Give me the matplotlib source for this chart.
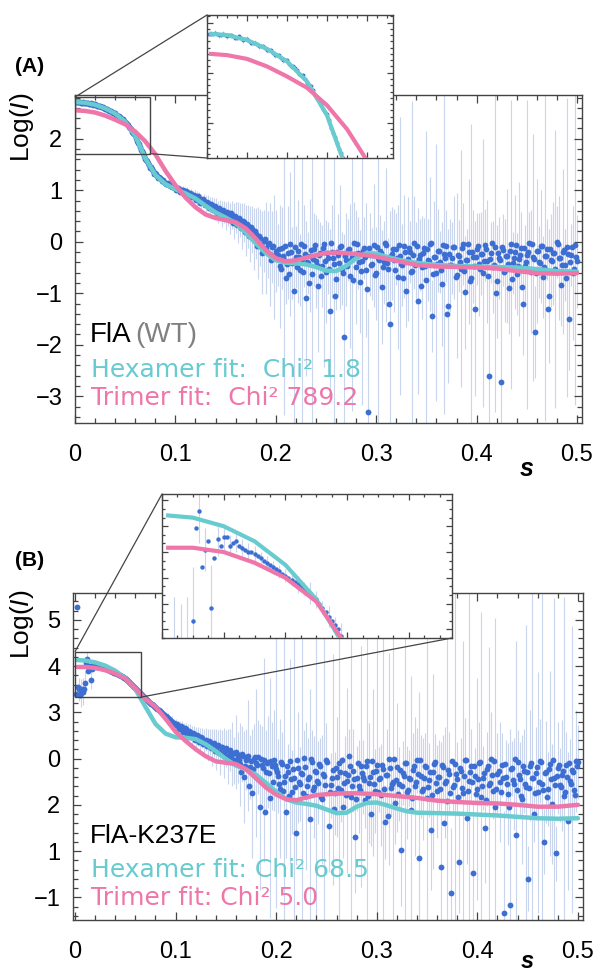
import numpy as np
import matplotlib
matplotlib.use("Agg")
import matplotlib.pyplot as plt
from matplotlib.patches import Rectangle, ConnectionPatch
from matplotlib.ticker import MultipleLocator, FixedLocator, FixedFormatter

# ---------------- data ----------------
# measured s grid (two interleaved frames, step 0.002 each)
s_data = np.round(np.arange(1, 251) * 0.002, 4)
s_data2 = np.round(np.arange(1, 251) * 0.002 - 0.001, 4)

# Panel A: FlA (WT) experimental log(I)
logI_A = [
    2.71, 2.72, 2.70, 2.71, 2.69, 2.70, 2.68, 2.69, 2.66, 2.67,
    2.64, 2.64, 2.61, 2.61, 2.58, 2.58, 2.54, 2.54, 2.50, 2.50,
    2.45, 2.44, 2.39, 2.38, 2.32, 2.29, 2.22, 2.18, 2.11, 2.07,
    1.96, 1.89, 1.79, 1.72, 1.61,
    1.57, 1.50, 1.45, 1.37, 1.33, 1.27, 1.26, 1.21, 1.19, 1.15,
    1.13, 1.12, 1.08, 1.07, 1.05, 1.03, 1.03, 0.99, 1.00, 0.96,
    0.97, 0.92, 0.93, 0.88, 0.89, 0.84, 0.85, 0.78, 0.80, 0.74,
    0.75, 0.68, 0.71, 0.64, 0.66, 0.58, 0.62, 0.54, 0.58, 0.50,
    0.55, 0.46, 0.52, 0.41, 0.47, 0.37, 0.43, 0.30, 0.38, 0.22,
    0.30, 0.15, 0.24, 0.05, 0.16, -0.02, 0.08, -0.21, 0.01, -0.12,
    -0.05, -0.24, -0.10, -0.30, -0.18,
    -0.25, -0.48, -0.12, -0.36, -0.70, -0.21, -0.05, -0.41, -0.95, -0.30,
    -0.18, -0.55, -0.33, -0.08, -1.10, -0.42, -0.27, -0.62, -0.15, -0.38,
    -0.85, -0.22, -0.47, -0.04, -0.58, -0.31, -1.35, -0.19, -0.44, -0.72,
    -0.26, -0.10, -0.52, -1.85, -0.35, -0.16, -0.66, -0.29, -0.03, -0.49,
    -0.21, -0.78, -0.37, -0.12, -0.55, -3.30, -0.25, -0.43, -0.07, -0.61,
    -0.32, -0.18, -0.88, -0.40, -0.06, -0.53, -1.60, -0.23, -0.36, -0.14,
    -0.68, -0.28, -0.45, -0.09, -0.95, -0.33, -0.20, -0.57, -0.02, -0.41,
    -1.15, -0.26, -0.50, -0.13, -0.74, -0.35, -0.05, -1.45, -0.30, -0.60,
    -0.17, -0.39, -0.82, -0.24, -0.08, -1.25, -0.46, -0.31, -0.11, -0.65,
    -0.27, -0.52, -0.04, -0.98, -0.36, -0.19, -0.71, -0.29, -1.30, -0.14,
    -0.44, -0.23, -0.60, -0.06, -0.38, -2.60, -0.21, -0.49, -0.10, -0.77,
    -0.32, -2.72, -0.16, -0.55, -0.27, -0.90, -0.05, -0.42, -0.20, -0.63,
    -0.34, -0.12, -1.20, -0.47, -0.25, -0.03, -0.58, -0.30, -1.75, -0.18,
    -0.40, -0.09, -0.69, -0.28, -0.15, -1.05, -0.36, -0.22, -0.53, -0.01,
    -0.31, -0.84, -0.19, -0.45, -0.11, -1.50, -0.26, -0.60, -0.07, -0.38,
]
logI_A2 = [
    2.71, 2.71, 2.71, 2.70, 2.70, 2.70, 2.69, 2.68, 2.68, 2.67,
    2.65, 2.64, 2.63, 2.61, 2.60, 2.58, 2.56, 2.54, 2.52, 2.50,
    2.47, 2.45, 2.42, 2.38, 2.35, 2.30, 2.26, 2.20, 2.14, 2.09,
    2.02, 1.92, 1.84, 1.76, 1.66,
    1.58, 1.53, 1.44, 1.42, 1.32, 1.31, 1.23, 1.24, 1.18, 1.17,
    1.12, 1.14, 1.09, 1.06, 1.07, 1.01, 1.04, 0.97, 1.01, 0.94,
    0.98, 0.90, 0.95, 0.86, 0.91, 0.82, 0.88, 0.76, 0.83, 0.71,
    0.78, 0.66, 0.74, 0.61, 0.69, 0.56, 0.65, 0.50, 0.61, 0.46,
    0.57, 0.43, 0.55, 0.37, 0.50, 0.33, 0.46, 0.27, 0.41, 0.19,
    0.35, 0.12, 0.28, 0.09, 0.20, -0.08, 0.12, -0.04, -0.15, 0.06,
    -0.20, -0.02, -0.36, -0.08, -0.25,
    -0.33, -0.15, -0.52, -0.27, -0.08, -0.44, -0.62, -0.20, -0.37, -0.11,
    -0.49, -0.29, -0.04, -0.58, -0.23, -0.40, -0.80, -0.16, -0.34, -0.06,
    -0.45, -0.25, -0.67, -0.13, -0.38, -0.21, -0.53, -0.02, -0.31, -1.05,
    -0.19, -0.42, -0.09, -0.60, -0.28, -0.47, -0.14, -0.35, -0.74, -0.24,
    -0.05, -0.39, -0.56, -0.18, -0.30, -0.92, -0.12, -0.46, -0.26, -0.64,
    -0.10, -0.36, -0.22, -0.50, -0.03, -0.41, -1.20, -0.27, -0.15, -0.55,
    -0.32, -0.07, -0.44, -0.70, -0.19, -0.38, -0.12, -0.59, -0.25, -0.46,
    -0.08, -0.33, -0.85, -0.21, -0.48, -0.14, -0.37, -0.02, -0.62, -0.29,
    -0.43, -0.17, -0.54, -0.06, -0.31, -1.40, -0.23, -0.45, -0.11, -0.68,
    -0.26, -0.40, -0.13, -0.57, -0.35, -0.04, -0.76, -0.20, -0.48, -0.30,
    -0.09, -0.52, -0.24, -0.38, -0.15, -0.66, -0.33, -0.02, -0.45, -1.00,
    -0.21, -0.36, -0.10, -0.59, -0.28, -0.43, -0.17, -0.72, -0.32, -0.06,
    -0.47, -0.25, -0.88, -0.13, -0.39, -0.20, -0.55, -0.04, -0.34, -0.61,
    -0.18, -0.42, -0.08, -0.50, -0.27, -1.30, -0.14, -0.37, -0.22, -0.58,
    -0.05, -0.31, -0.46, -0.16, -0.70, -0.24, -0.40, -0.11, -0.53, -0.29,
]
err_A = [
    0.02, 0.02, 0.02, 0.02, 0.02, 0.02, 0.02, 0.02, 0.02, 0.02,
    0.02, 0.02, 0.02, 0.02, 0.02, 0.02, 0.02, 0.02, 0.02, 0.02,
    0.02, 0.02, 0.02, 0.02, 0.02, 0.02, 0.02, 0.02, 0.02, 0.02,
    0.02, 0.02, 0.02, 0.02, 0.02,
    0.03, 0.03, 0.04, 0.03, 0.04, 0.04, 0.05, 0.04, 0.05, 0.05,
    0.06, 0.05, 0.06, 0.07, 0.06, 0.08, 0.07, 0.09, 0.08, 0.10,
    0.09, 0.11, 0.10, 0.12, 0.11, 0.14, 0.12, 0.15, 0.13, 0.17,
    0.15, 0.18, 0.16, 0.20, 0.18, 0.22, 0.20, 0.25, 0.22, 0.28,
    0.25, 0.30, 0.27, 0.35, 0.30, 0.40, 0.33, 0.45, 0.38, 0.50,
    0.42, 0.55, 0.46, 0.60, 0.50, 0.70, 0.55, 0.80, 0.60, 0.90,
    0.65, 1.00, 0.70, 1.20, 0.80,
    0.6, 1.2, 0.8, 3.0, 0.5, 0.9, 1.4, 0.7, 2.6, 0.6,
    1.0, 0.7, 3.2, 0.8, 1.5, 0.6, 1.1, 2.9, 0.7, 0.9,
    1.3, 0.6, 0.8, 2.4, 1.0, 0.7, 1.6, 0.9, 3.1, 0.6,
    0.8, 1.2, 0.7, 2.0, 0.9, 0.6, 1.4, 3.0, 0.8, 1.1,
    0.7, 1.0, 2.8, 0.6, 1.3, 2.0, 0.8, 0.7, 1.2, 0.9,
    3.2, 0.7, 1.1, 0.8, 1.5, 0.6, 2.2, 0.9, 1.0, 0.7,
    1.4, 2.7, 0.8, 1.0, 0.7, 1.2, 0.6, 3.3, 0.9, 0.8,
    1.8, 0.7, 1.0, 0.6, 2.9, 0.8, 1.3, 0.7, 1.1, 2.5,
    0.8, 0.6, 1.2, 3.1, 0.7, 1.5, 0.9, 0.7, 1.0, 1.6,
    0.7, 2.3, 0.8, 1.1, 0.6, 1.4, 3.0, 0.9, 1.7, 0.7,
    1.0, 0.8, 2.6, 0.7, 1.2, 1.9, 0.6, 0.9, 3.2, 1.1,
    0.8, 2.2, 0.7, 1.0, 1.3, 0.9, 2.8, 0.6, 1.1, 0.8,
    1.5, 0.7, 1.0, 0.8, 3.0, 0.6, 1.2, 2.4, 0.9, 1.4,
    0.7, 1.1, 0.8, 3.2, 0.6, 1.3, 0.9, 1.0, 2.7, 0.7,
    1.2, 0.8, 1.6, 0.7, 2.9, 1.0, 0.6, 1.3, 3.1, 0.9,
]

# Panel A model fits
fit_s_A = [0.002, 0.01, 0.02, 0.03, 0.04, 0.05, 0.06, 0.07, 0.08, 0.09,
           0.10, 0.11, 0.12, 0.13, 0.14, 0.15, 0.16, 0.17, 0.18, 0.19,
           0.20, 0.21, 0.22, 0.23, 0.24, 0.25, 0.26, 0.27, 0.28, 0.29,
           0.30, 0.31, 0.32, 0.33, 0.34, 0.36, 0.38, 0.40, 0.42, 0.44,
           0.46, 0.48, 0.50]
hexamer_A = [2.71, 2.70, 2.66, 2.59, 2.49, 2.33, 2.06, 1.62, 1.30, 1.12,
             1.02, 0.94, 0.84, 0.70, 0.57, 0.47, 0.36, 0.18, -0.03, -0.22,
             -0.36, -0.41, -0.42, -0.44, -0.49, -0.56, -0.57, -0.47, -0.32, -0.22,
             -0.23, -0.29, -0.34, -0.38, -0.41, -0.45, -0.47, -0.48, -0.49, -0.50,
             -0.53, -0.57, -0.58]
trimer_A = [2.55, 2.54, 2.51, 2.45, 2.37, 2.28, 2.14, 1.95, 1.70, 1.38,
            1.10, 0.86, 0.67, 0.53, 0.46, 0.42, 0.38, 0.26, 0.06, -0.16,
            -0.32, -0.38, -0.36, -0.31, -0.26, -0.22, -0.21, -0.22, -0.24, -0.26,
            -0.29, -0.33, -0.37, -0.41, -0.45, -0.48, -0.49, -0.50, -0.52, -0.57,
            -0.61, -0.62, -0.61]

# Panel B: FlA-K237E experimental log(I)
logI_B = [
    5.28, 3.50, 3.42, 3.45, 3.64, 4.15, 3.97, 3.70, 4.02, 4.03,
    3.99, 4.01, 3.98, 3.96, 3.95, 3.93, 3.91, 3.89, 3.87, 3.85,
    3.83, 3.81, 3.79, 3.77, 3.74, 3.70, 3.66, 3.62, 3.57, 3.53,
    3.48, 3.44, 3.39, 3.35, 3.31, 3.26, 3.23, 3.19, 3.15, 3.12,
    3.07, 3.03, 2.99, 2.95, 2.91, 2.87, 2.83, 2.79, 2.76, 2.72,
    2.70, 2.66, 2.68, 2.60, 2.63, 2.55, 2.58, 2.49, 2.53, 2.44,
    2.48, 2.38, 2.45, 2.33, 2.41, 2.30, 2.36, 2.24, 2.33, 2.20,
    2.29, 2.15, 2.26, 2.12, 2.22, 2.05, 2.19, 2.10, 1.96, 2.14,
    2.03, 1.88, 2.10, 1.60, 1.98, 2.06, 1.82, 1.25, 1.99, 1.90,
    2.04, 0.95, 1.86, 1.97, 1.72, 1.93, 1.15, 1.84, 1.96, 1.78,
    1.62, 1.35, 1.88, 1.50, 0.85, 1.72, 1.95, 1.28, 1.58, 0.39,
    1.80, 1.45, 1.66, 2.02, 1.20, 1.55, 0.70, 1.92, 1.38, 1.70,
    1.48, 1.85, 1.12, 1.63, 1.98, 0.55, 1.42, 1.76, 1.25, 1.60,
    1.90, 1.33, 0.95, 1.68, 1.52, 2.05, 1.18, 1.74, 0.30, 1.57,
    1.40, 1.83, 1.60, 1.10, 1.95, 1.47, 0.80, 1.70, 1.30, 1.87,
    1.55, 1.22, 1.78, 0.62, 1.65, 1.99, 1.36, 1.50, 1.05, 1.81,
    1.44, 0.02, 1.69, 1.90, 1.27, 1.58, 0.88, 1.75, 1.40, 1.96,
    -0.15, 1.62, 1.34, 1.85, 1.15, 1.53, 0.45, 1.72, 1.93, 1.29,
    1.60, -0.35, 1.82, 1.48, 1.08, 1.67, -0.90, 1.39, 1.88, 1.56,
    -0.24, 1.74, 1.25, 1.97, 0.72, 1.51, 1.83, -0.48, 1.63, 1.35,
    1.90, 1.18, 1.58, 0.50, 1.77, 1.42, 2.00, 1.30, 0.95, 1.66,
    1.49, 1.86, -1.34, 1.61, 1.24, -1.17, 1.79, 1.45, 0.35, 1.92,
    1.55, 1.12, 1.73, 1.38, -0.60, 1.84, 1.59, 0.80, 1.68, 1.27,
    1.95, 1.46, 0.20, 1.71, 1.35, 1.89, 1.02, 1.57, -0.05, 1.80,
    1.43, 1.64, 1.20, 1.87, 0.65, 1.52, 1.76, 1.33, 1.94, 1.93,
]
logI_B2 = [
    3.40, 3.55, 3.38, 3.50, 3.50, 4.07, 3.89, 4.01, 3.93, 3.99,
    4.03, 4.00, 3.99, 3.97, 3.96, 3.94, 3.92, 3.90, 3.88, 3.86,
    3.84, 3.82, 3.80, 3.78, 3.75, 3.72, 3.68, 3.64, 3.60, 3.55,
    3.51, 3.46, 3.42, 3.37, 3.33, 3.29, 3.25, 3.21, 3.17, 3.14,
    3.10, 3.05, 3.01, 2.97, 2.93, 2.89, 2.85, 2.81, 2.77, 2.74,
    2.74, 2.64, 2.70, 2.58, 2.66, 2.52, 2.60, 2.47, 2.56, 2.40,
    2.50, 2.36, 2.47, 2.31, 2.39, 2.27, 2.37, 2.22, 2.30, 2.17,
    2.27, 2.13, 2.24, 2.08, 2.20, 1.98, 2.16, 2.02, 2.12, 1.92,
    2.09, 1.97, 1.70, 2.05, 1.85, 2.01, 1.40, 1.94, 1.78, 2.03,
    1.87, 1.55, 1.99, 1.80, 0.85, 1.91, 1.68, 1.95, 1.50, 1.86,
    1.70, 1.45, 1.92, 1.30, 1.62, 1.85, 1.20, 1.55, 1.78, 1.38,
    1.96, 1.50, 1.68, 1.25, 1.82, 1.41, 1.60, 2.00, 1.33, 1.74,
    1.52, 1.88, 1.16, 1.66, 1.43, 1.93, 1.28, 1.58, 0.90, 1.80,
    1.36, 1.71, 1.97, 1.48, 1.22, 1.64, 1.84, 1.40, 1.56, 1.12,
    1.90, 1.31, 1.69, 1.54, 1.83, 1.19, 1.61, 1.95, 1.44, 1.73,
    1.27, 1.57, 1.87, 1.35, 1.65, 0.75, 1.79, 1.46, 1.99, 1.53,
    1.24, 1.76, 1.41, 1.63, 1.91, 1.32, 1.55, 1.14, 1.84, 1.49,
    1.67, 1.98, 1.29, 1.58, 1.81, 1.39, 1.70, 1.21, 1.89, 1.47,
    1.60, 1.34, 1.86, 0.60, 1.52, 1.75, 1.26, 1.94, 1.43, 1.66,
    1.18, 1.80, 1.37, 1.62, 1.97, 1.30, 1.71, 1.50, 1.85, 1.23,
    1.56, 1.92, 1.40, 1.68, 1.11, 1.83, 1.47, 1.64, 1.95, 1.35,
    1.73, 1.28, 1.59, 1.88, 1.44, 0.95, 1.77, 1.53, 1.99, 1.31,
    1.65, 1.20, 1.85, 1.46, 1.72, 1.37, 1.90, 1.57, 1.25, 1.81,
    1.49, 1.93, 1.33, 1.69, 1.16, 1.78, 1.55, 1.96, 1.42, 1.62,
    1.86, 1.38, 1.74, 1.27, 1.60, 1.91, 1.45, 1.70, 1.21, 1.84,
]
err_B = [
    0.05, 0.25, 0.30, 0.30, 0.25, 0.15, 0.10, 0.20, 0.08, 0.06,
    0.05, 0.05, 0.04, 0.04, 0.04, 0.03, 0.03, 0.03, 0.03, 0.03,
    0.03, 0.04, 0.03, 0.05, 0.04, 0.03, 0.05, 0.04, 0.06, 0.05,
    0.04, 0.06, 0.05, 0.07, 0.05, 0.06, 0.08, 0.06, 0.07, 0.09,
    0.07, 0.08, 0.10, 0.08, 0.09, 0.11, 0.09, 0.12, 0.10, 0.13,
    0.12, 0.15, 0.13, 0.17, 0.14, 0.20, 0.16, 0.22, 0.18, 0.25,
    0.20, 0.28, 0.22, 0.30, 0.25, 0.35, 0.28, 0.40, 0.30, 0.45,
    0.33, 0.50, 0.36, 0.55, 0.40, 0.60, 0.45, 0.70, 0.50, 0.80,
    0.55, 0.90, 0.60, 1.00, 0.65, 1.20, 0.70, 1.40, 0.75, 1.60,
    0.80, 1.80, 0.85, 2.20, 0.90, 1.00, 2.60, 0.95, 1.10, 3.00,
    0.8, 1.5, 0.7, 4.0, 1.0, 0.6, 2.2, 0.9, 3.8, 0.7,
    1.2, 0.8, 4.2, 0.6, 1.6, 0.9, 2.8, 0.7, 1.1, 3.5,
    0.9, 0.6, 1.4, 4.1, 0.8, 1.0, 0.7, 2.5, 0.9, 1.3,
    3.9, 0.7, 1.1, 0.8, 2.0, 0.6, 4.3, 0.9, 1.2, 0.7,
    1.0, 2.6, 0.8, 0.6, 4.0, 1.3, 0.7, 1.8, 0.9, 3.2,
    0.7, 1.1, 4.2, 0.8, 1.0, 2.3, 0.6, 3.7, 0.9, 1.4,
    0.8, 1.2, 0.7, 4.1, 1.0, 0.6, 2.9, 0.8, 1.5, 0.7,
    3.6, 0.9, 1.1, 0.7, 4.3, 0.8, 1.3, 2.1, 0.6, 1.0,
    0.8, 2.7, 0.7, 1.2, 3.9, 0.9, 1.4, 0.6, 4.0, 0.8,
    1.1, 0.7, 3.3, 0.9, 1.0, 4.2, 0.8, 1.5, 0.6, 2.4,
    0.9, 4.0, 0.7, 1.2, 0.8, 3.0, 1.0, 0.6, 4.1, 0.9,
    1.3, 0.7, 2.2, 0.8, 1.1, 3.8, 0.6, 1.0, 4.2, 0.7,
    0.8, 1.4, 0.9, 3.5, 0.7, 1.2, 4.0, 0.6, 1.0, 2.6,
    0.9, 4.1, 0.7, 1.1, 0.8, 2.0, 1.3, 3.9, 0.6, 1.0,
    0.8, 1.2, 4.3, 0.7, 1.5, 0.9, 3.1, 0.6, 1.1, 0.8,
]

fit_s_B = [0.002, 0.01, 0.02, 0.03, 0.04, 0.05, 0.06, 0.07, 0.08, 0.09,
           0.10, 0.11, 0.12, 0.13, 0.14, 0.15, 0.16, 0.17, 0.18, 0.19,
           0.20, 0.21, 0.22, 0.23, 0.24, 0.25, 0.26, 0.27, 0.28, 0.29,
           0.30, 0.31, 0.32, 0.33, 0.34, 0.36, 0.38, 0.40, 0.42, 0.44,
           0.46, 0.48, 0.50]
hexamer_B = [4.13, 4.12, 4.08, 4.01, 3.90, 3.74, 3.50, 3.12, 2.75, 2.54,
             2.46, 2.45, 2.42, 2.31, 2.16, 1.99, 1.85, 1.76, 1.65, 1.47,
             1.28, 1.12, 1.05, 1.02, 0.98, 0.90, 0.82, 0.83, 0.96, 1.04,
             1.05, 0.99, 0.92, 0.86, 0.83, 0.82, 0.81, 0.79, 0.77, 0.74,
             0.71, 0.70, 0.71]
trimer_B = [3.98, 3.98, 3.96, 3.91, 3.84, 3.73, 3.52, 3.29, 3.12, 2.86,
            2.58, 2.38, 2.20, 2.05, 1.94, 1.91, 1.88, 1.77, 1.57, 1.37,
            1.22, 1.12, 1.10, 1.16, 1.21, 1.23, 1.24, 1.25, 1.25, 1.24,
            1.23, 1.21, 1.19, 1.17, 1.15, 1.09, 1.06, 1.04, 1.03, 1.00,
            0.96, 0.96, 1.00]

yticks_B = [-1, 0, 1, 2, 3, 4, 5]
ytick_labels_B = ["\u22121", "1", "2", "0", "3", "4", "5"]

# ---------------- style ----------------
W, H = 598, 976
SANS = ["Liberation Sans", "DejaVu Sans"]
plt.rcParams["font.family"] = SANS
plt.rcParams["mathtext.fontset"] = "custom"
plt.rcParams["mathtext.rm"] = "Liberation Sans"
plt.rcParams["mathtext.it"] = "Liberation Sans:italic"

BLUE = "#3d6fd3"
ERRC = "#bccbe8"
CYAN = "#68cbcf"
PINK = "#ef76a9"
SPINE = "#444444"

fig = plt.figure(figsize=(W / 100, H / 100), dpi=100)


def fax(x0, y0, x1, y1):
    return fig.add_axes([x0 / W, 1 - y1 / H, (x1 - x0) / W, (y1 - y0) / H])


def style_ticks(ax, labels=True, size=17):
    ax.tick_params(which="both", direction="in", top=True, right=True,
                   colors=SPINE, width=0.9)
    ax.tick_params(which="major", length=6)
    ax.tick_params(which="minor", length=3.5)
    ax.tick_params(axis="x", pad=15, labelsize=size, labelcolor="black")
    ax.tick_params(axis="y", pad=9, labelsize=size, labelcolor="black")
    if not labels:
        ax.tick_params(labelleft=False, labelbottom=False)
    for sp in ax.spines.values():
        sp.set_color(SPINE)
        sp.set_linewidth(1.0)


def draw_data(ax, y, e, y2, ms=4.2):
    y = np.array(y)
    e = np.array(e)
    ax.vlines(s_data, y - e, y + e, color=ERRC, lw=0.8, alpha=0.8, zorder=1)
    ax.plot(s_data2, y2, "o", ms=ms, color=BLUE, mec="none", zorder=2)
    ax.plot(s_data, y, "o", ms=ms, color=BLUE, mec="none", zorder=2)


# ======== Panel A ========
axA = fax(75, 95, 582, 423)
draw_data(axA, logI_A, err_A, logI_A2)
axA.plot(fit_s_A, hexamer_A, color=CYAN, lw=3.2, zorder=3, solid_capstyle="round")
axA.plot(fit_s_A, trimer_A, color=PINK, lw=3.2, zorder=4, solid_capstyle="round")
axA.set_xlim(0, 0.505)
axA.set_ylim(-3.52, 2.85)
axA.xaxis.set_major_locator(FixedLocator([0, 0.1, 0.2, 0.3, 0.4, 0.5]))
axA.xaxis.set_major_formatter(FixedFormatter(["0", "0.1", "0.2", "0.3", "0.4", "0.5"]))
axA.xaxis.set_minor_locator(MultipleLocator(0.02))
axA.yaxis.set_major_locator(MultipleLocator(1))
axA.yaxis.set_minor_locator(MultipleLocator(0.2))
style_ticks(axA)
axA.add_patch(Rectangle((0, 1.71), 0.075, 1.10, fill=False, ec=SPINE, lw=1.0, zorder=5))

insA = fax(207, 15, 393, 158)
draw_data(insA, logI_A, err_A, logI_A2, ms=2.8)
insA.plot(fit_s_A, hexamer_A, color=CYAN, lw=3.0, zorder=3)
insA.plot(fit_s_A, trimer_A, color=PINK, lw=3.0, zorder=4)
insA.set_xlim(0, 0.093)
insA.set_ylim(1.72, 2.86)
insA.xaxis.set_major_locator(MultipleLocator(0.02))
insA.xaxis.set_minor_locator(MultipleLocator(0.005))
insA.yaxis.set_major_locator(MultipleLocator(0.4))
insA.yaxis.set_minor_locator(MultipleLocator(0.05))
style_ticks(insA, labels=False)
insA.tick_params(which="major", length=4)
insA.tick_params(which="minor", length=2.5)

for xyA, xyB in [((0, 1), (0, 2.81)), ((0, 0), (0.075, 1.71))]:
    cp = ConnectionPatch(xyA=xyA, coordsA=insA.transAxes, xyB=xyB,
                         coordsB=axA.transData, color=SPINE, lw=0.9)
    fig.add_artist(cp)

# ======== Panel B ========
axB = fax(73, 593, 583, 920)
draw_data(axB, logI_B, err_B, logI_B2)
axB.plot(fit_s_B, hexamer_B, color=CYAN, lw=3.2, zorder=3, solid_capstyle="round")
axB.plot(fit_s_B, trimer_B, color=PINK, lw=3.2, zorder=4, solid_capstyle="round")
axB.set_xlim(-0.002, 0.505)
axB.set_ylim(-1.49, 5.58)
axB.xaxis.set_major_locator(FixedLocator([0, 0.1, 0.2, 0.3, 0.4, 0.5]))
axB.xaxis.set_major_formatter(FixedFormatter(["0", "0.1", "0.2", "0.3", "0.4", "0.5"]))
axB.xaxis.set_minor_locator(MultipleLocator(0.02))
axB.yaxis.set_major_locator(FixedLocator(yticks_B))
axB.yaxis.set_major_formatter(FixedFormatter(ytick_labels_B))
axB.yaxis.set_minor_locator(MultipleLocator(0.2))
style_ticks(axB)
axB.add_patch(Rectangle((0, 3.33), 0.066, 0.98, fill=False, ec=SPINE, lw=1.0, zorder=5))

insB = fax(162, 494, 452, 638)
draw_data(insB, logI_B, err_B, logI_B2, ms=3.2)
insB.plot(fit_s_B, hexamer_B, color=CYAN, lw=3.0, zorder=3)
insB.plot(fit_s_B, trimer_B, color=PINK, lw=3.0, zorder=4)
insB.set_xlim(0, 0.094)
insB.set_ylim(3.56, 4.23)
insB.xaxis.set_major_locator(MultipleLocator(0.02))
insB.xaxis.set_minor_locator(MultipleLocator(0.005))
insB.yaxis.set_major_locator(MultipleLocator(0.12))
insB.yaxis.set_minor_locator(MultipleLocator(0.04))
style_ticks(insB, labels=False)
insB.tick_params(which="major", length=4)
insB.tick_params(which="minor", length=2.5)

for xyA, xyB in [((0, 1), (0, 4.31)), ((1, 0), (0.066, 3.33))]:
    cp = ConnectionPatch(xyA=xyA, coordsA=insB.transAxes, xyB=xyB,
                         coordsB=axB.transData, color=SPINE, lw=0.9)
    fig.add_artist(cp)

# ======== Text ========
def ftext(x, y, s, **kw):
    return fig.text(x / W, 1 - y / H, s, **kw)

ftext(30, 66, "(A)", fontsize=15, fontweight="bold", ha="center", va="center")
ftext(30, 560, "(B)", fontsize=15, fontweight="bold", ha="center", va="center")
ftext(22, 127, "Log($I$)", fontsize=19, rotation=90, ha="center", va="center")
ftext(22, 624, "Log($I$)", fontsize=19, rotation=90, ha="center", va="center")
ftext(527, 469, "s", fontsize=18, fontweight="bold", style="italic",
      ha="center", va="center")
ftext(527, 962, "s", fontsize=17, fontweight="bold", style="italic",
      ha="center", va="center")

t1 = ftext(90, 342, "FlA", fontsize=20, va="baseline", ha="left")
fig.canvas.draw()
bb = t1.get_window_extent()
fig.text(bb.x1 / W + 4 / W, 1 - 342 / H, "(WT)", fontsize=20, color="#808080",
         va="baseline", ha="left")
ftext(91, 377, "Hexamer fit:  Chi\u00b2 1.8", fontsize=18, color=CYAN,
      family=["DejaVu Sans"], va="baseline")
ftext(91, 405, "Trimer fit:  Chi\u00b2 789.2", fontsize=18, color=PINK,
      family=["DejaVu Sans"], va="baseline")

ftext(90, 843, "FlA-K237E", fontsize=19, va="baseline", ha="left")
ftext(91, 877, "Hexamer fit: Chi\u00b2 68.5", fontsize=18, color=CYAN,
      family=["DejaVu Sans"], va="baseline")
ftext(91, 905, "Trimer fit: Chi\u00b2 5.0", fontsize=18, color=PINK,
      family=["DejaVu Sans"], va="baseline")

fig.savefig("out.png", dpi=100)
